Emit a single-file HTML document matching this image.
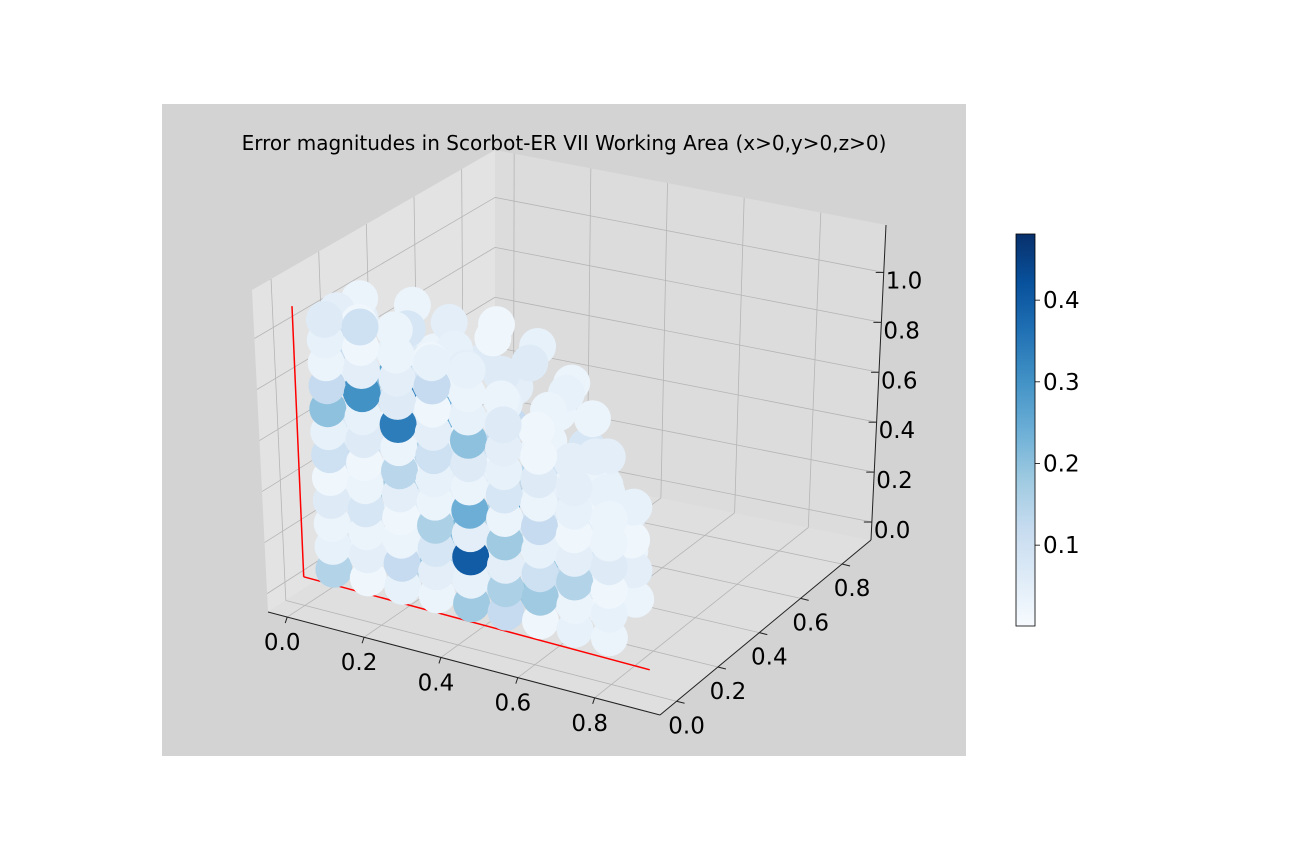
<!DOCTYPE html>
<html><head><meta charset="utf-8"><style>
html,body{margin:0;padding:0;background:#fff;}
svg{display:block;font-family:"DejaVu Sans","Liberation Sans",sans-serif;}
</style></head><body>
<svg id="fig" width="1296" height="864" viewBox="0 0 1296 864">
<rect x="0" y="0" width="1296" height="864" fill="#ffffff"/>
<rect x="162" y="104" width="804" height="652" fill="#d3d3d3"/>
<g id="panes"></g>
<g id="grid"></g>
<g id="axes"></g>
<g id="refl"></g>
<g id="pts"></g>
<g id="ticks"></g>
<text x="564" y="150" text-anchor="middle" font-size="20" fill="#000">Error magnitudes in Scorbot-ER VII Working Area (x&gt;0,y&gt;0,z&gt;0)</text>
<defs><linearGradient id="cbg" x1="0" y1="1" x2="0" y2="0">
<stop offset="0" stop-color="#f7fbff"/><stop offset="0.125" stop-color="#deebf7"/><stop offset="0.25" stop-color="#c6dbef"/><stop offset="0.375" stop-color="#9ecae1"/><stop offset="0.5" stop-color="#6baed6"/><stop offset="0.625" stop-color="#4292c6"/><stop offset="0.75" stop-color="#2171b5"/><stop offset="0.875" stop-color="#08519c"/><stop offset="1" stop-color="#08306b"/></linearGradient></defs>
<g id="cbar">
<rect x="1016" y="234" width="19" height="392" fill="url(#cbg)" stroke="#000" stroke-width="0.8"/>
</g>
</svg>
<script>
const NS="http://www.w3.org/2000/svg";
// axis ranges
const xRange=[-0.05,0.97], yRange=[-0.08,0.94], zRange=[-0.072,1.19];
const xTicks=[0,0.2,0.4,0.6,0.8];
const yTicks=[0,0.2,0.4,0.6,0.8];
const zTicks=[0,0.2,0.4,0.6,0.8,1.0];
const xTickLabels=["0.0","0.2","0.4","0.6","0.8"];
const yTickLabels=["0.0","0.2","0.4","0.6","0.8"];
const zTickLabels=["0.0","0.2","0.4","0.6","0.8","1.0"];
const cbTicks=[0.1,0.2,0.3,0.4];
const cbTickLabels=["0.1","0.2","0.3","0.4"];
const cbRange=[0.001,0.481];
// scatter data
const xs=[
0.02,0.12,0.22,0.32,0.42,0.5,0.56,0.6,0.62,0.62,0.3,0.4,0.2,0.1,
0.1,0.2,0.3,0.4,0.5,0.55,0.6,0.25,0.35,0.45,
0.02,0.02,0.02,0.02,0.02,0.02,0.02, 0.14,0.14,0.14,0.14,0.14,0.14,0.14, 0.26,0.26,0.26,0.26,0.26,0.26,0.26, 0.38,0.38,0.38,0.38,0.38,0.38, 0.5,0.5,0.5,0.5,0.5,0.5, 0.62,0.62,0.62,0.62, 0.72,0.72,0.72,
0.02,0.02,0.14,0.26,0.38,0.5,0.62,0.72,
0.065,0.065,0.065,0.065,0.065,0.065,0.065,0.065,0.065,0.065,0.065,
0.155,0.155,0.155,0.155,0.155,0.155,0.155,0.155,0.155,0.155,0.155,
0.245,0.245,0.245,0.245,0.245,0.245,0.245,0.245,0.245,0.245,
0.335,0.335,0.335,0.335,0.335,0.335,0.335,0.335,0.335,0.335,
0.425,0.425,0.425,0.425,0.425,0.425,0.425,0.425,0.425,
0.515,0.515,0.515,0.515,0.515,0.515,0.515,0.515,
0.605,0.605,0.605,0.605,0.605,0.605,0.605,
0.695,0.695,0.695,0.695,0.695,0.695,
-0.01,-0.01,-0.01,-0.01,-0.01,
0.02,0.02,0.02,0.02,0.02,0.02,0.02,0.02,0.02,0.02,
0.11,0.11,0.11,0.11,0.11,0.11,0.11,0.11,0.11,0.11,
0.2,0.2,0.2,0.2,0.2,0.2,0.2,0.2,0.2,
0.29,0.29,0.29,0.29,0.29,0.29,0.29,0.29,0.29,
0.38,0.38,0.38,0.38,0.38,0.38,0.38,0.38,0.38,
0.47,0.47,0.47,0.47,0.47,0.47,0.47,0.47,
0.56,0.56,0.56,0.56,0.56,0.56,0.56,
0.65,0.65,0.65,0.65,0.65,0.65,
0.74,0.74,0.74,0.74,0.74,
0.02,0.02,0.11,0.11,0.2,0.2,0.29,0.29,0.38,0.47,0.56,0.65,0.74,0.38];
const ys=[
0.42,0.4,0.44,0.41,0.43,0.42,0.4,0.44,0.41,0.43,0.42,0.4,0.44,0.41,
0.34,0.33,0.35,0.34,0.33,0.36,0.34,0.45,0.46,0.44,
0.25,0.26,0.24,0.25,0.26,0.24,0.25, 0.24,0.25,0.26,0.24,0.25,0.26,0.24, 0.25,0.24,0.26,0.25,0.24,0.26,0.25, 0.26,0.25,0.24,0.26,0.25,0.24, 0.25,0.26,0.24,0.25,0.26,0.24, 0.25,0.24,0.26,0.25, 0.24,0.25,0.26,
0.25,0.25,0.25,0.25,0.25,0.25,0.25,0.25,
0.17,0.17,0.17,0.17,0.17,0.17,0.17,0.17,0.17,0.17,0.17,
0.17,0.17,0.17,0.17,0.17,0.17,0.17,0.17,0.17,0.17,0.17,
0.17,0.17,0.17,0.17,0.17,0.17,0.17,0.17,0.17,0.17,
0.17,0.17,0.17,0.17,0.17,0.17,0.17,0.17,0.17,0.17,
0.17,0.17,0.17,0.17,0.17,0.17,0.17,0.17,0.17,
0.17,0.17,0.17,0.17,0.17,0.17,0.17,0.17,
0.17,0.17,0.17,0.17,0.17,0.17,0.17,
0.17,0.17,0.17,0.17,0.17,0.17,
0.2,0.2,0.2,0.2,0.2,
0.1,0.1,0.1,0.1,0.1,0.1,0.1,0.1,0.1,0.1,
0.1,0.1,0.1,0.1,0.1,0.1,0.1,0.1,0.1,0.1,
0.1,0.1,0.1,0.1,0.1,0.1,0.1,0.1,0.1,
0.1,0.1,0.1,0.1,0.1,0.1,0.1,0.1,0.1,
0.1,0.1,0.1,0.1,0.1,0.1,0.1,0.1,0.1,
0.1,0.1,0.1,0.1,0.1,0.1,0.1,0.1,
0.1,0.1,0.1,0.1,0.1,0.1,0.1,
0.1,0.1,0.1,0.1,0.1,0.1,
0.1,0.1,0.1,0.1,0.1,
0.1,0.1,0.1,0.1,0.1,0.1,0.1,0.1,0.1,0.1,0.1,0.1,0.1,0.1];
const zs=[
0.75,0.74,0.71,0.66,0.58,0.48,0.36,0.24,0.12,0.03,0.5,0.3,0.3,0.5,
0.95,0.92,0.88,0.82,0.74,0.64,0.52,0.86,0.8,0.7,
0.8,0.68,0.56,0.44,0.32,0.2,0.08, 0.8,0.68,0.56,0.44,0.32,0.2,0.08, 0.76,0.64,0.52,0.4,0.28,0.16,0.04, 0.7,0.58,0.46,0.34,0.22,0.1, 0.6,0.48,0.36,0.24,0.12,0.02, 0.46,0.34,0.22,0.1, 0.3,0.18,0.06,
0.92,1.0,0.92,0.88,0.82,0.72,0.58,0.42,
0.065,0.155,0.245,0.335,0.425,0.515,0.605,0.695,0.785,0.875,0.965,
0.065,0.155,0.245,0.335,0.425,0.515,0.605,0.695,0.785,0.875,0.965,
0.065,0.155,0.245,0.335,0.425,0.515,0.605,0.695,0.785,0.875,
0.065,0.155,0.245,0.335,0.425,0.515,0.605,0.695,0.785,0.875,
0.065,0.155,0.245,0.335,0.425,0.515,0.605,0.695,0.785,
0.065,0.155,0.245,0.335,0.425,0.515,0.605,0.695,
0.065,0.155,0.245,0.335,0.425,0.515,0.605,
0.065,0.155,0.245,0.335,0.425,0.515,
0.3,0.5,0.7,0.85,0.97,
0.02,0.11,0.2,0.29,0.38,0.47,0.56,0.65,0.74,0.83,
0.02,0.11,0.2,0.29,0.38,0.47,0.56,0.65,0.74,0.83,
0.02,0.11,0.2,0.29,0.38,0.47,0.56,0.65,0.74,
0.02,0.11,0.2,0.29,0.38,0.47,0.56,0.65,0.74,
0.02,0.11,0.2,0.29,0.38,0.47,0.56,0.65,0.74,
0.02,0.11,0.2,0.29,0.38,0.47,0.56,0.65,
0.02,0.11,0.2,0.29,0.38,0.47,0.56,
0.02,0.11,0.2,0.29,0.38,0.47,
0.02,0.11,0.2,0.29,0.38,
0.92,1.0,0.92,1.0,0.83,0.92,0.83,0.92,0.83,0.74,0.65,0.56,0.47,0.92];
const errs=[
0.04,0.03,0.06,0.05,0.03,0.08,0.04,0.05,0.03,0.06,0.12,0.1,0.07,0.05,
0.03,0.05,0.02,0.06,0.04,0.03,0.05,0.02,0.04,0.03,
0.05,0.2,0.04,0.1,0.06,0.03,0.14, 0.06,0.33,0.05,0.03,0.16,0.04,0.02, 0.03,0.25,0.07,0.04,0.05,0.18,0.1, 0.04,0.08,0.06,0.28,0.05,0.12, 0.03,0.1,0.05,0.04,0.22,0.06, 0.03,0.06,0.04,0.08, 0.02,0.05,0.03,
0.05,0.03,0.08,0.04,0.06,0.03,0.05,0.04,
0.03,0.08,0.05,0.02,0.12,0.04,0.06,0.3,0.05,0.03,0.02,
0.05,0.02,0.04,0.18,0.03,0.07,0.02,0.1,0.26,0.04,0.03,
0.2,0.04,0.03,0.06,0.02,0.15,0.05,0.03,0.08,0.02,
0.04,0.1,0.22,0.03,0.05,0.08,0.02,0.06,0.03,0.05,
0.06,0.03,0.05,0.17,0.04,0.02,0.12,0.04,0.03,
0.19,0.05,0.03,0.08,0.04,0.14,0.03,0.02,
0.03,0.12,0.04,0.02,0.06,0.03,0.05,
0.02,0.04,0.07,0.03,0.02,0.04,
0.04,0.08,0.03,0.12,0.05,
0.15,0.04,0.03,0.06,0.02,0.1,0.04,0.2,0.12,0.03,
0.02,0.05,0.03,0.08,0.03,0.02,0.06,0.04,0.3,0.05,
0.04,0.12,0.03,0.02,0.05,0.14,0.03,0.34,0.06,
0.03,0.05,0.08,0.16,0.03,0.04,0.1,0.05,0.02,
0.18,0.04,0.4,0.05,0.24,0.03,0.06,0.2,0.04,
0.12,0.16,0.05,0.18,0.03,0.08,0.04,0.05,
0.02,0.18,0.1,0.04,0.12,0.03,0.06,
0.04,0.03,0.15,0.05,0.02,0.04,
0.03,0.04,0.02,0.06,0.03,
0.04,0.06,0.02,0.1,0.05,0.03,0.12,0.04,0.03,0.06,0.02,0.05,0.03,0.04];

// box corners in screen space
const F00=[268,612],F10=[660,715],F11=[871,540],F01=[495,465];
const T00=[252,290],T10=[660,375],T11=[886,225],T01=[495,150];
function bil(a,b,c,d,u,v){
  return [a[0]*(1-u)*(1-v)+b[0]*u*(1-v)+c[0]*(1-u)*v+d[0]*u*v,
          a[1]*(1-u)*(1-v)+b[1]*u*(1-v)+c[1]*(1-u)*v+d[1]*u*v];}
function proj(x,y,z){
  const u=(x-xRange[0])/(xRange[1]-xRange[0]);
  const v=(y-yRange[0])/(yRange[1]-yRange[0]);
  const w=(z-zRange[0])/(zRange[1]-zRange[0]);
  const b=bil(F00,F10,F01,F11,u,v), t=bil(T00,T10,T01,T11,u,v);
  return [b[0]*(1-w)+t[0]*w, b[1]*(1-w)+t[1]*w];}
function mk(tag,attrs,parent){const e=document.createElementNS(NS,tag);for(const k in attrs)e.setAttribute(k,attrs[k]);parent.appendChild(e);return e;}
function line(p,q,stroke,sw,parent){return mk('line',{x1:p[0],y1:p[1],x2:q[0],y2:q[1],stroke:stroke,'stroke-width':sw},parent);}
function poly(pts,fill,parent){return mk('polygon',{points:pts.map(p=>p.join(',')).join(' '),fill:fill},parent);}
const [X0,X1]=xRange,[Y0,Y1]=yRange,[Z0,Z1]=zRange;
const panes=document.getElementById('panes');
let p;
p=poly([proj(X0,Y0,Z0),proj(X0,Y1,Z0),proj(X0,Y1,Z1),proj(X0,Y0,Z1)],'#e3e3e3',panes);


p=poly([proj(X0,Y1,Z0),proj(X1,Y1,Z0),proj(X1,Y1,Z1),proj(X0,Y1,Z1)],'#dcdcdc',panes);


p=poly([proj(X0,Y0,Z0),proj(X1,Y0,Z0),proj(X1,Y1,Z0),proj(X0,Y1,Z0)],'#dfdfdf',panes);


const grid=document.getElementById('grid');
const gc='#b5b5b5';
xTicks.forEach(t=>{line(proj(t,Y0,Z0),proj(t,Y1,Z0),gc,0.8,grid);line(proj(t,Y1,Z0),proj(t,Y1,Z1),gc,0.8,grid);});
yTicks.forEach(t=>{line(proj(X0,t,Z0),proj(X1,t,Z0),gc,0.8,grid);line(proj(X0,t,Z0),proj(X0,t,Z1),gc,0.8,grid);});
zTicks.forEach(t=>{line(proj(X0,Y0,t),proj(X0,Y1,t),gc,0.8,grid);line(proj(X0,Y1,t),proj(X1,Y1,t),gc,0.8,grid);});
const axes=document.getElementById('axes');
let a;
a=line(proj(X0,Y0,Z0),proj(X1,Y0,Z0),'#222',1,axes);


a=line(proj(X1,Y0,Z0),proj(X1,Y1,Z0),'#222',1,axes);


a=line(proj(X1,Y1,Z0),proj(X1,Y1,Z1),'#222',1,axes);


const refl=document.getElementById('refl');
a=line(proj(0,0,0.04),proj(0,0,1.1),'#ff0000',1.5,refl);


a=line(proj(0,0,0.04),proj(0.9,0,0.02),'#ff0000',1.5,refl);


// colormap
const blues=["#f7fbff","#deebf7","#c6dbef","#9ecae1","#6baed6","#4292c6","#2171b5","#08519c","#08306b"];
function hx(c){return [1,3,5].map(i=>parseInt(c.substr(i,2),16));}
function cmap(e){let t=(e-cbRange[0])/(cbRange[1]-cbRange[0]);t=Math.max(0,Math.min(1,t));
  const f=t*8,i=Math.min(7,Math.floor(f)),r=f-i,a=hx(blues[i]),b=hx(blues[i+1]);
  return 'rgb('+a.map((v,k)=>Math.round(v+(b[k]-v)*r)).join(',')+')';}
const ptsG=document.getElementById('pts');
const order=xs.map((_,i)=>i);
function depth(i){return 0.433*xs[i]-0.75*ys[i]+0.5*zs[i];}
order.sort((i,j)=>depth(i)-depth(j));
order.forEach(i=>{const q=proj(xs[i],ys[i],zs[i]);
  const c=mk('circle',{cx:q[0].toFixed(1),cy:q[1].toFixed(1),r:18.5,fill:cmap(errs[i])},ptsG);
  
  
});
const ticks=document.getElementById('ticks');
xTicks.forEach((t,i)=>{const q=proj(t,Y0,Z0);line(q,[q[0]-2,q[1]+6],'#222',1,ticks);
  const e=mk('text',{x:q[0]-5,y:q[1]+33,'text-anchor':'middle','font-size':23,fill:'#000'},ticks);e.textContent=xTickLabels[i];
  
  });
yTicks.forEach((t,i)=>{const q=proj(X1,t,Z0);line(q,[q[0]+8,q[1]+2],'#222',1,ticks);
  const e=mk('text',{x:q[0]+10,y:q[1]+32,'text-anchor':'middle','font-size':23,fill:'#000'},ticks);e.textContent=yTickLabels[i];
  
  });
zTicks.forEach((t,i)=>{const q=proj(X1,Y1,t);line(q,[q[0]-8,q[1]],'#222',1,ticks);
  const e=mk('text',{x:q[0]+2,y:q[1]+16,'text-anchor':'start','font-size':23,fill:'#000'},ticks);e.textContent=zTickLabels[i];
  
  });
const cbar=document.getElementById('cbar');
cbTicks.forEach((t,i)=>{const y=626-(t-cbRange[0])/(cbRange[1]-cbRange[0])*392;
  line([1035,y],[1040,y],'#000',0.8,cbar);
  const e=mk('text',{x:1043,y:y+8,'font-size':23,fill:'#000'},cbar);e.textContent=cbTickLabels[i];
  
  });
</script>
</body></html>
